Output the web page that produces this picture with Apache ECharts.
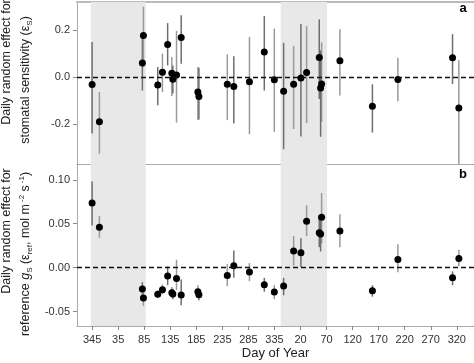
<!DOCTYPE html>
<html>
<head>
<meta charset="utf-8">
<script src="https://cdn.jsdelivr.net/npm/echarts@6/dist/echarts.min.js"></script>
<style>html,body{margin:0;padding:0;background:#fff}#c{width:474px;height:363px}</style>
</head>
<body>
<div id="c"></div>
<script>
// Day index (days since first tick, day 345), shared by both panels
const dayIndex = [0, 14, 96.5, 98.5, 126, 135, 145, 153, 155, 162, 171, 203, 205, 259.5, 272, 302, 330.5,
  349.7, 367.6, 386.8, 400.8, 411.7, 436, 440.5, 438.6, 475.6, 538, 586.9, 691.8, 703.9];

// Panel a: stomatal sensitivity random effect
const epsS     = [-0.031, -0.19, 0.06, 0.177, -0.034, 0.021, 0.139, 0.017, -0.009, 0.009, 0.169, -0.063, -0.083, -0.03, -0.04, -0.02, 0.107,
  -0.011, -0.06, -0.03, -0.004, 0.02, 0.084, -0.029, -0.046, 0.07, -0.124, -0.01, 0.083, -0.131];
const epsSHigh = [0.15, -0.064, 0.17, 0.30, 0.043, 0.10, 0.23, 0.086, 0.05, 0.197, 0.264, 0.043, 0.04, 0.097, 0.089, 0.171, 0.26,
  0.207, 0.146, 0.133, 0.226, 0.217, 0.246, 0.148, 0.114, 0.204, -0.031, 0.083, 0.183, 0.072];
const epsSLow  = [-0.24, -0.326, -0.057, 0.043, -0.12, -0.064, 0.05, -0.08, -0.07, -0.193, 0.057, -0.183, -0.18, -0.183, -0.197, -0.243, -0.057,
  -0.233, -0.307, -0.221, -0.253, -0.196, -0.093, -0.19, -0.254, -0.078, -0.236, -0.103, -0.029, -0.40];

// Panel b: reference gs random effect
const epsRef     = [0.0735, 0.046, -0.0244, -0.0345, -0.0304, -0.0251, -0.0094, -0.0285, -0.030, -0.0124, -0.0312, -0.0274, -0.0308, -0.009, 0.0023, -0.0049, -0.0195,
  -0.0278, -0.021, 0.0191, 0.0169, 0.0529, 0.0398, 0.0574, 0.0383, 0.0417, -0.0263, 0.0094, -0.0116, 0.0105];
const epsRefHigh = [0.098, 0.059, -0.0165, -0.026, -0.026, -0.019, 0.0015, -0.022, -0.024, 0.009, -0.0135, -0.020, -0.025, 0.004, 0.0195, 0.0053, -0.0116,
  -0.020, -0.0116, 0.036, 0.0334, 0.071, 0.0597, 0.085, 0.054, 0.0608, -0.020, 0.0267, -0.0041, 0.0203];
const epsRefLow  = [0.048, 0.034, -0.032, -0.0435, -0.034, -0.030, -0.020, -0.034, -0.036, -0.0255, -0.0428, -0.034, -0.037, -0.021, -0.0116, -0.0154, -0.0274,
  -0.036, -0.0315, 0.0023, 0.0008, 0.036, 0.0233, 0.0278, 0.0184, 0.0233, -0.033, -0.0053, -0.020, 0.0015];

// Shaded periods (day index ranges)
const shadedStart = [-2.5, 362];
const shadedEnd   = [103, 451];

// Axis ticks
const xTickPos = [0, 50, 100, 150, 200, 250, 300, 350, 400, 450, 500, 550, 600, 650, 700];
const xTickLabels = ['345','35','85','135','185','235','285','335','20','70','120','170','220','270','320'];
const yTicksA = [-0.2, 0.0, 0.2];
const yTicksB = [-0.05, 0.00, 0.05, 0.10];

const xMin = -29, xMax = 733;

const chart = echarts.init(document.getElementById('c'), null, {renderer: 'canvas'});

function xAxisBase(grid) {
  return {
    gridIndex: grid, type: 'value', min: xMin, max: xMax,
    axisLine: {show: true, onZero: false, lineStyle: {color: '#aaa', width: 1}},
    axisTick: {show: false}, axisLabel: {show: false}, splitLine: {show: false}
  };
}

const fontFam = 'Liberation Sans, Arial, sans-serif';

const option = {
  animation: false,
  grid: [
    {left: 77, right: 0, top: 2, height: 162},
    {left: 77, right: 0, top: 164, height: 162}
  ],
  xAxis: [
    xAxisBase(0),
    Object.assign(xAxisBase(1), {
      axisTick: {show: true, customValues: xTickPos, length: 4, lineStyle: {color: '#888'}},
      axisLabel: {show: true, customValues: xTickPos, margin: 8, fontSize: 11, color: '#333', fontFamily: fontFam,
        formatter: v => xTickLabels[Math.round(v / 50)]},
      name: 'Day of Year', nameLocation: 'middle', nameGap: 21,
      nameTextStyle: {fontSize: 13, color: '#222', fontFamily: fontFam}
    }),
    Object.assign(xAxisBase(0), {position: 'top', axisLine: {show: true, onZero: false, lineStyle: {color: '#bbb', width: 2}}})
  ],
  yAxis: [
    {gridIndex: 0, type: 'value', min: -0.37, max: 0.32,
      axisLine: {show: true, onZero: false, lineStyle: {color: '#aaa'}},
      axisTick: {show: true, customValues: yTicksA, length: 4, lineStyle: {color: '#888'}},
      axisLabel: {customValues: yTicksA, margin: 7, fontSize: 11, color: '#333', fontFamily: fontFam, formatter: v => v.toFixed(1)},
      splitLine: {show: false}},
    {gridIndex: 1, type: 'value', min: -0.0664, max: 0.118,
      axisLine: {show: true, onZero: false, lineStyle: {color: '#aaa'}},
      axisTick: {show: true, customValues: yTicksB, length: 4, lineStyle: {color: '#888'}},
      axisLabel: {customValues: yTicksB, margin: 7, fontSize: 11, color: '#333', fontFamily: fontFam, formatter: v => v.toFixed(2)},
      splitLine: {show: false}}
  ],
  series: []
};

function shadeSeries(idx) {
  return {
    type: 'custom', xAxisIndex: idx, yAxisIndex: idx, silent: true, z: 1,
    data: shadedStart.map((s, i) => [s, shadedEnd[i]]),
    renderItem: (params, api) => {
      const cs = params.coordSys;
      const p0 = api.coord([api.value(0), 0]);
      const p1 = api.coord([api.value(1), 0]);
      return {type: 'rect', shape: {x: p0[0], y: cs.y, width: p1[0] - p0[0], height: cs.height},
        style: {fill: '#e8e8e8'}};
    }
  };
}

function errSeries(idx, lo, hi) {
  return {
    type: 'custom', xAxisIndex: idx, yAxisIndex: idx, silent: true, z: 3, clip: true,
    data: dayIndex.map((d, i) => [d, lo[i], hi[i]]),
    renderItem: (params, api) => {
      const a = api.coord([api.value(0), api.value(1)]);
      const b = api.coord([api.value(0), api.value(2)]);
      const cs = params.coordSys;
      const clamp = y => Math.max(cs.y, Math.min(cs.y + cs.height, y));
      return {type: 'line', shape: {x1: a[0], y1: clamp(a[1]), x2: b[0], y2: clamp(b[1])},
        style: {stroke: params.dataIndex % 2 ? '#9a9a9a' : '#6e6e6e', lineWidth: 1.5}};
    }
  };
}

function pointSeries(idx, vals) {
  return {
    type: 'scatter', xAxisIndex: idx, yAxisIndex: idx, z: 4, silent: true,
    symbol: 'circle', symbolSize: 7, itemStyle: {color: '#000', opacity: 1},
    data: dayIndex.map((d, i) => [d, vals[i]]),
    markLine: {silent: true, symbol: ['none', 'none'], label: {show: false},
      lineStyle: {color: '#111', type: [5, 3], width: 1.3, opacity: 1}, data: [{yAxis: 0}]}
  };
}

option.series.push(shadeSeries(0), errSeries(0, epsSLow, epsSHigh), pointSeries(0, epsS));
option.series.push(shadeSeries(1), errSeries(1, epsRefLow, epsRefHigh), pointSeries(1, epsRef));

const subStyle = {fontSize: 8, verticalAlign: 'bottom', fontFamily: fontFam, fill: '#222'};
const supStyle = {fontSize: 8, verticalAlign: 'top', fontFamily: fontFam, fill: '#222', padding: [0, 0, 0, 2]};
const baseRich = {
  sub: subStyle, sup: supStyle,
  it: {fontSize: 12.5, fontStyle: 'italic', fontFamily: fontFam, fill: '#222'}
};
function titleText(x, y, txt) {
  return {type: 'text', x: x, y: y, rotation: Math.PI / 2, silent: true,
    style: {text: txt, fontSize: 12.5, fontFamily: fontFam, fill: '#222', align: 'center', verticalAlign: 'middle',
      lineHeight: 16, rich: baseRich}};
}

option.graphic = [
  titleText(7, 62, 'Daily random effect for'),
  titleText(26, 80, 'stomatal sensitivity (ε{sub|S})'),
  titleText(7, 231, 'Daily random effect for'),
  titleText(26, 254, 'reference {it|g}{sub|S} (ε{sub|ref}, mol m{sup|-2} s{sup|-1})'),
  {type: 'text', x: 463, y: 8, silent: true, style: {text: 'a', fontSize: 13, fontWeight: 'bold', fontFamily: fontFam, fill: '#000', align: 'center', verticalAlign: 'middle'}},
  {type: 'text', x: 463, y: 174, silent: true, style: {text: 'b', fontSize: 13, fontWeight: 'bold', fontFamily: fontFam, fill: '#000', align: 'center', verticalAlign: 'middle'}}
];

chart.setOption(option);
</script>
</body>
</html>
